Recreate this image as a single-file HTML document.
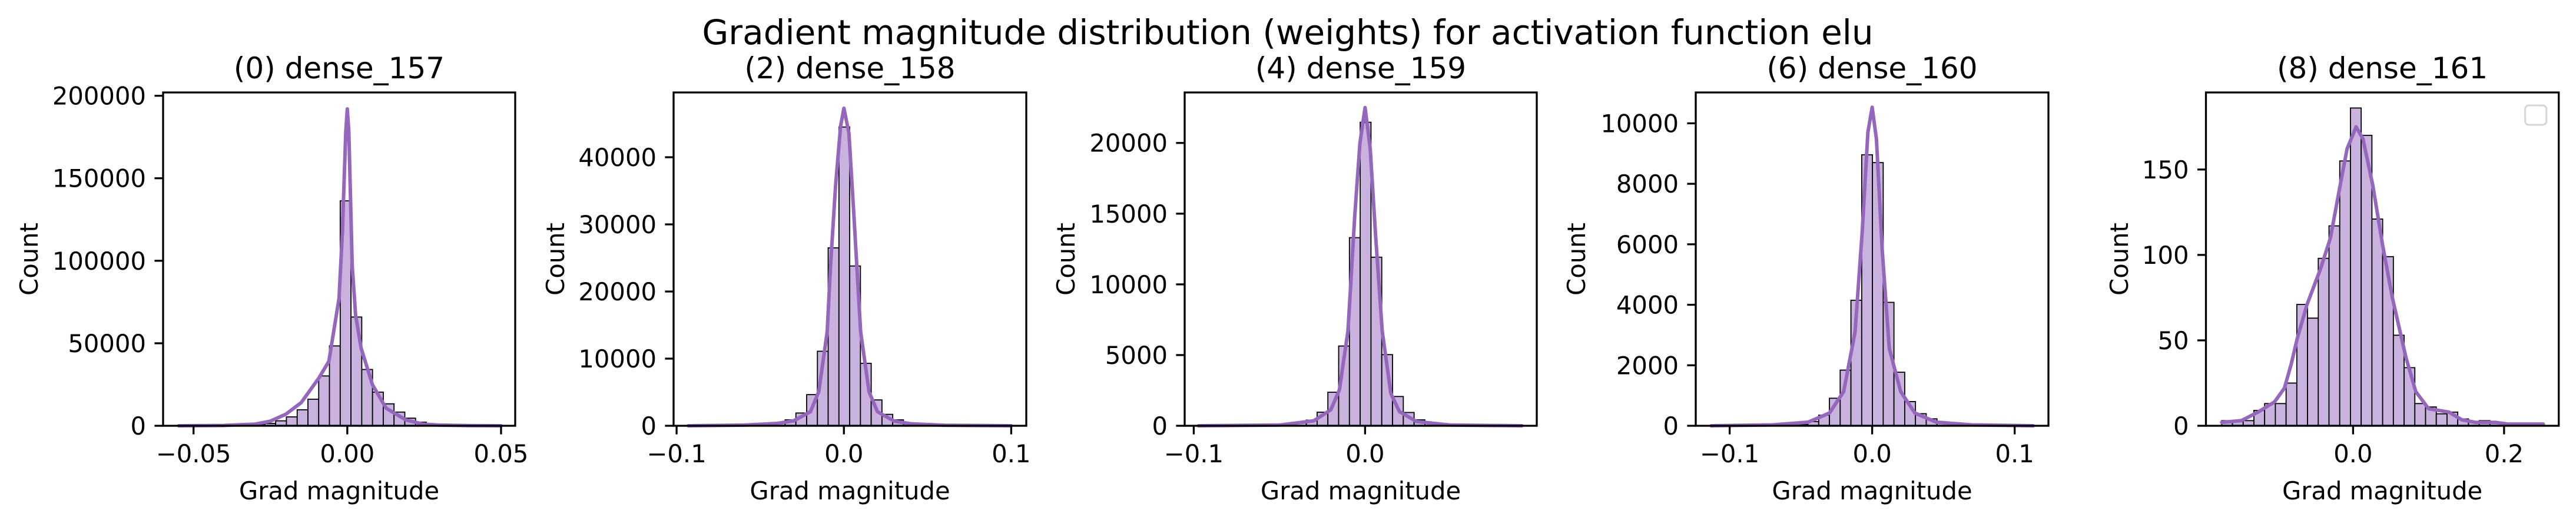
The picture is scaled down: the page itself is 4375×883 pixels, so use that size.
<!DOCTYPE html>
<html><head><meta charset="utf-8"><style>
html,body{margin:0;padding:0;background:#fff;}
svg{display:block;font-family:"DejaVu Sans","Liberation Sans",sans-serif;}
</style></head><body>
<svg id="fig" width="4375" height="883" viewBox="0 0 4375 883" xmlns="http://www.w3.org/2000/svg">
<rect x="0" y="0" width="4375" height="883" fill="#fff"/>
<text x="2187" y="75" font-size="58" text-anchor="middle">Gradient magnitude distribution (weights) for activation function elu</text>
</svg>
<script>
// ---- Panel 0: dense_157 ----
const p0Title = "(0) dense_157";
const p0BinStart = -0.0548;
const p0BinWidth = 0.0035;
const p0Counts = [5,10,20,50,100,200,300,600,1400,3000,5400,9700,16100,30200,48400,136300,65900,34100,20400,13300,8300,4600,2200,1000,500,250,120,60,30,10];
const p0KdeX = [-0.0548,-0.04,-0.03,-0.025,-0.02,-0.015,-0.0093,-0.006,-0.0027,-0.0016,-0.0005,0,0.0005,0.0016,0.0027,0.0045,0.0082,0.0126,0.019,0.0246,0.03,0.04,0.05];
const p0KdeY = [0,200,1000,2800,7000,14000,28800,39000,77000,117000,178000,192000,178000,97000,67000,47000,24800,10700,3600,1000,400,100,0];
const p0XTicks = [-0.05,0,0.05];
const p0XTickLabels = ["\u22120.05","0.00","0.05"];
const p0YTicks = [0,50000,100000,150000,200000];
const p0YTickLabels = ["0","50000","100000","150000","200000"];

// ---- Panel 1: dense_158 ----
const p1Title = "(2) dense_158";
const p1BinStart = -0.093;
const p1BinWidth = 0.00643;
const p1Counts = [2,3,5,10,20,50,100,200,400,890,1900,4640,11100,26500,44500,23800,9300,3850,1700,880,400,200,100,50,25,12,6,3,2,1];
const p1KdeX = [-0.093,-0.06,-0.04,-0.03,-0.02,-0.015,-0.01,-0.008,-0.005,-0.002,0,0.003,0.006,0.01,0.015,0.02,0.03,0.04,0.06,0.1];
const p1KdeY = [0,100,350,740,2100,5100,14000,23800,35700,44600,47300,43600,31200,14000,5100,2100,700,300,80,0];
const p1XTicks = [-0.1,0,0.1];
const p1XTickLabels = ["\u22120.1","0.0","0.1"];
const p1YTicks = [0,10000,20000,30000,40000];
const p1YTickLabels = ["0","10000","20000","30000","40000"];

// ---- Panel 2: dense_159 ----
const p2Title = "(4) dense_159";
const p2BinStart = -0.0972;
const p2BinWidth = 0.00629;
const p2Counts = [1,1,2,3,5,10,20,40,90,190,400,960,2370,5640,13300,21460,11920,5030,2070,940,420,180,80,40,20,10,5,3,2,1];
const p2KdeX = [-0.0972,-0.05,-0.03,-0.02,-0.015,-0.01,-0.006,-0.003,0,0.003,0.006,0.01,0.015,0.02,0.03,0.05,0.0915];
const p2KdeY = [0,50,350,1130,2540,6700,14900,20000,22500,19600,13700,6700,2300,1010,300,50,0];
const p2XTicks = [-0.1,0];
const p2XTickLabels = ["\u22120.1","0.0"];
const p2YTicks = [0,5000,10000,15000,20000];
const p2YTickLabels = ["0","5000","10000","15000","20000"];

// ---- Panel 3: dense_160 ----
const p3Title = "(6) dense_160";
const p3BinStart = -0.113;
const p3BinWidth = 0.007547;
const p3Counts = [1,1,1,2,3,6,12,25,50,140,350,910,1840,4150,8960,8700,4080,1770,800,400,230,90,40,20,10,5,3,2,1,1];
const p3KdeX = [-0.113,-0.07,-0.045,-0.03,-0.02,-0.012,-0.007,-0.003,0,0.003,0.007,0.012,0.02,0.03,0.045,0.07,0.113];
const p3KdeY = [0,30,120,420,1130,3100,6400,9700,10530,9480,5850,2560,1130,420,120,30,0];
const p3XTicks = [-0.1,0,0.1];
const p3XTickLabels = ["\u22120.1","0.0","0.1"];
const p3YTicks = [0,2000,4000,6000,8000,10000];
const p3YTickLabels = ["0","2000","4000","6000","8000","10000"];

// ---- Panel 4: dense_161 ----
const p4Title = "(8) dense_161";
const p4BinStart = -0.174;
const p4BinWidth = 0.01421;
const p4Counts = [3,3,3,9,13,13,25,71,63,98,117,155,186,170,121,99,53,34,13,11,7,8,4,2,3,2,1,1,0,1];
const p4KdeX = [-0.174,-0.148,-0.126,-0.104,-0.091,-0.082,-0.074,-0.061,-0.043,-0.03,-0.017,-0.008,0.004,0.013,0.026,0.039,0.052,0.07,0.083,0.1,0.127,0.144,0.162,0.188,0.205,0.252];
const p4KdeY = [2,3,8,14,22,36,51,71,92,110,141,162,175,168,141,106,75,40,20,10,8,3.5,2,2,1,1];
const p4XTicks = [0,0.2];
const p4XTickLabels = ["0.0","0.2"];
const p4YTicks = [0,50,100,150];
const p4YTickLabels = ["0","50","100","150"];

const NS = "http://www.w3.org/2000/svg";
const svg = document.getElementById('fig');
const TOP = 157, BOTTOM = 723;

function mk(tag, attrs, parent){
  const e = document.createElementNS(NS, tag);
  for (const k in attrs) e.setAttribute(k, attrs[k]);
  parent.appendChild(e);
  return e;
}

function drawPanel(idx, left, right, xmin, xmax, ymax, title, binStart, binWidth, counts, kdeX, kdeY, xt, xtl, yt, ytl, ylabelX, legend){
  const g = mk('g', {}, svg);
  
  
  const sx = v => left + (v - xmin) / (xmax - xmin) * (right - left);
  const sy = v => BOTTOM - v / ymax * (BOTTOM - TOP);
  // bars
  const bars = mk('g', {}, g);
  
  
  counts.forEach((c, i) => {
    const x0 = sx(binStart + i * binWidth), x1 = sx(binStart + (i + 1) * binWidth);
    const r = mk('rect', {x: x0, y: sy(c), width: x1 - x0, height: BOTTOM - sy(c), fill: '#c9b3de', stroke: '#000', 'stroke-width': 1.8}, bars);
    
    
  });
  // kde
  let d = '';
  kdeX.forEach((x, i) => { d += (i ? 'L' : 'M') + sx(x).toFixed(2) + ',' + sy(kdeY[i]).toFixed(2); });
  const kp = mk('path', {d: d, fill: 'none', stroke: '#9467bd', 'stroke-width': 6, 'stroke-linejoin': 'round', 'stroke-linecap': 'round'}, g);
  
  
  // frame
  const fr = mk('rect', {x: left, y: TOP, width: right - left, height: BOTTOM - TOP, fill: 'none', stroke: '#000', 'stroke-width': 3.3}, g);
  
  
  // x ticks
  xt.forEach((v, i) => {
    const x = sx(v);
    const tl = mk('line', {x1: x, x2: x, y1: BOTTOM, y2: BOTTOM + 14.6, stroke: '#000', 'stroke-width': 3.3}, g);
    
    
    const t = mk('text', {x: x, y: 785, 'font-size': 41.7, 'text-anchor': 'middle'}, g);
    t.textContent = xtl[i];
    
    
  });
  // y ticks
  yt.forEach((v, i) => {
    const y = sy(v);
    const tl = mk('line', {x1: left - 14.6, x2: left, y1: y, y2: y, stroke: '#000', 'stroke-width': 3.3}, g);
    
    
    const t = mk('text', {x: left - 29, y: y + 15, 'font-size': 41.7, 'text-anchor': 'end'}, g);
    t.textContent = ytl[i];
    
    
  });
  // titles / labels
  const tt = mk('text', {x: (left + right) / 2, y: 133, 'font-size': 50, 'text-anchor': 'middle'}, g);
  tt.textContent = title;
  
  
  const xl = mk('text', {x: (left + right) / 2, y: 848, 'font-size': 41.7, 'text-anchor': 'middle'}, g);
  xl.textContent = 'Grad magnitude';
  
  
  const yl = mk('text', {x: 0, y: 0, 'font-size': 41.7, 'text-anchor': 'middle', transform: 'translate(' + (ylabelX + 15) + ',' + ((TOP + BOTTOM) / 2) + ') rotate(-90)'}, g);
  yl.textContent = 'Count';
  
  
  if (legend) {
    const lg = mk('rect', {x: right - 57, y: 179, width: 36, height: 33, rx: 6, fill: '#fff', stroke: '#d6d6d6', 'stroke-width': 3}, g);
    
    
  }
}

drawPanel(0, 277, 875, -0.0599, 0.0546, 202000, p0Title, p0BinStart, p0BinWidth, p0Counts, p0KdeX, p0KdeY, p0XTicks, p0XTickLabels, p0YTicks, p0YTickLabels, 49, false);
drawPanel(1, 1144, 1743, -0.1018, 0.109, 49650, p1Title, p1BinStart, p1BinWidth, p1Counts, p1KdeX, p1KdeY, p1XTicks, p1XTickLabels, p1YTicks, p1YTickLabels, 943, false);
drawPanel(2, 2012, 2610, -0.1053, 0.1002, 23570, p2Title, p2BinStart, p2BinWidth, p2Counts, p2KdeX, p2KdeY, p2XTicks, p2XTickLabels, p2YTicks, p2YTickLabels, 1810, false);
drawPanel(3, 2880, 3479, -0.1238, 0.1237, 11020, p3Title, p3BinStart, p3BinWidth, p3Counts, p3KdeX, p3KdeY, p3XTicks, p3XTickLabels, p3YTicks, p3YTickLabels, 2677, false);
drawPanel(4, 3746.5, 4345.7, -0.1949, 0.2724, 195.1, p4Title, p4BinStart, p4BinWidth, p4Counts, p4KdeX, p4KdeY, p4XTicks, p4XTickLabels, p4YTicks, p4YTickLabels, 3599, true);
</script>
</body></html>
